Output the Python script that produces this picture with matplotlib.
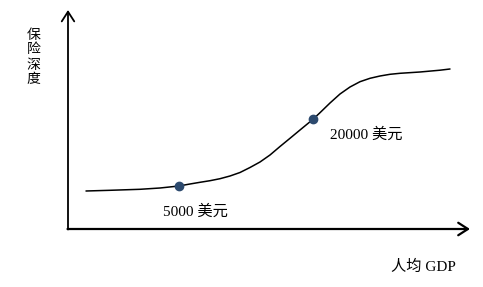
import matplotlib
matplotlib.use("Agg")
import matplotlib.pyplot as plt

plt.rcParams['font.family'] = ['Liberation Serif', 'Noto Sans CJK SC']

# curve (x: GDP per capita, y: insurance depth, arbitrary units)
gdp = [18, 42, 72, 92, 111, 122, 132, 142, 152, 162, 172, 182, 192, 202, 212,
       222, 232, 245, 252, 262, 272, 282, 292, 302, 312, 322, 332, 352, 372, 382]
depth = [38, 38.7, 39.7, 41, 43, 45, 46.7, 48.3, 50.3, 53, 56.5, 61.5, 67, 74, 82.5,
         90.7, 99, 109.7, 116.3, 126, 135, 142, 147.3, 150.7, 153, 154.7, 155.7, 157, 158.8, 160]

marked_x = [111, 245]
marked_y = [43, 109.7]
marked_labels = ['5000 美元', '20000 美元']
label_pos = [(95, 17), (262, 94)]

ylabel_chars = ['保', '险', '深', '度']

fig = plt.figure(figsize=(4.83, 2.87), dpi=100)
ax = fig.add_axes([68 / 483, 58 / 287, 402 / 483, 219 / 287])
ax.set_xlim(0, 402)
ax.set_ylim(0, 219)
ax.axis('off')

# axes with arrow heads
ax.annotate('', xy=(402, 0), xytext=(-0.5, 0),
            arrowprops=dict(arrowstyle='->,head_length=0.7,head_width=0.45',
                            lw=1.6, color='black', mutation_scale=10,
                            shrinkA=0, shrinkB=0))
ax.annotate('', xy=(0, 219), xytext=(0, -0.5),
            arrowprops=dict(arrowstyle='->,head_length=0.7,head_width=0.45',
                            lw=1.3, color='black', mutation_scale=10,
                            shrinkA=0, shrinkB=0))

ax.plot(gdp, depth, color='black', lw=1.1, solid_capstyle='round',
        solid_joinstyle='round')
ax.plot(marked_x, marked_y, 'o', color='#2c4a6e', ms=6, zorder=3)

for (tx, ty), s in zip(label_pos, marked_labels):
    ax.text(tx, ty, s, fontsize=11, va='center', ha='left')

# vertical y label, one character per line
for i, ch in enumerate(ylabel_chars):
    fig.text(33.5 / 483, 1 - (35 + 15 * i) / 287, ch, fontsize=10,
             ha='center', va='center')
fig.text(391 / 483, 1 - 267 / 287, '人均 GDP', fontsize=11,
         ha='left', va='center')

fig.savefig('out.png', dpi=100)
